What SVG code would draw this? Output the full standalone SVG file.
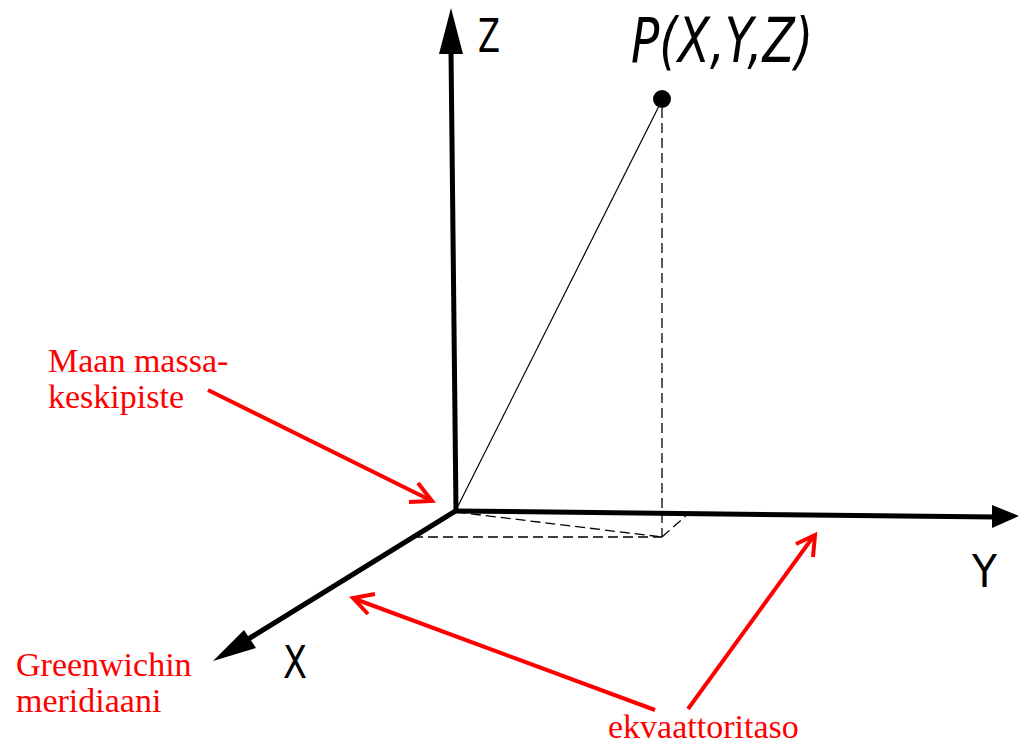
<svg xmlns="http://www.w3.org/2000/svg" width="1019" height="744" viewBox="0 0 1019 744">
<style>
.axis{stroke:#000;stroke-width:5;fill:none;stroke-linecap:butt}
.dash{stroke:#000;stroke-width:1.3;fill:none;stroke-dasharray:10 5}
.thin{stroke:#000;stroke-width:1.2;fill:none}
.red{stroke:#f00;stroke-width:4;fill:none;stroke-linecap:butt;stroke-linejoin:miter}
.lbl{font-family:"DejaVu Sans",sans-serif;fill:#000}
.rt{font-family:"Liberation Serif",serif;font-size:34px;fill:#f00}
</style>
<rect width="1019" height="744" fill="#fff"/>
<g id="connectors">
<line class="axis" x1="456" y1="511" x2="451" y2="50"/>
<polygon points="451,8 439,54 463,54" fill="#000"/>
<line class="axis" x1="455" y1="511" x2="995" y2="517"/>
<polygon points="1019,516 992,505 992,528" fill="#000"/>
<line class="axis" x1="457" y1="510" x2="245" y2="641"/>
<polygon points="213,661 244,630 256,648" fill="#000"/>
<line class="thin" x1="456" y1="510" x2="660" y2="104"/>
<line class="dash" x1="662" y1="108" x2="662" y2="537"/>
<line class="dash" x1="456" y1="512" x2="662" y2="537"/>
<line class="dash" x1="413" y1="537" x2="662" y2="537"/>
<line class="dash" x1="662" y1="537" x2="688" y2="514"/>
<polyline class="red" points="208,390 430,500"/>
<polyline class="red" points="409,502 432,501 418,483"/>
<polyline class="red" points="688,709 813,537"/>
<polyline class="red" points="796,544 815,535 813,557"/>
<polyline class="red" points="655,710 355,599"/>
<polyline class="red" points="375,594 353,598 368,614"/>
</g>
<g id="point-P">
<circle cx="662" cy="99" r="9" fill="#000"/>
<text class="lbl" x="631" y="62" font-size="62" font-style="italic" textLength="182" lengthAdjust="spacingAndGlyphs">P(X,Y,Z)</text>
</g>
<g id="label-Z"><text class="lbl" x="478" y="52" font-size="46" textLength="22" lengthAdjust="spacingAndGlyphs">Z</text></g>
<g id="label-X"><text class="lbl" x="283" y="678" font-size="45" textLength="24" lengthAdjust="spacingAndGlyphs">X</text></g>
<g id="label-Y"><text class="lbl" x="972" y="587" font-size="45" textLength="25" lengthAdjust="spacingAndGlyphs">Y</text></g>
<g id="label-massakeskipiste">
<text class="rt" x="48" y="372">Maan massa-</text>
<text class="rt" x="48" y="408">keskipiste</text>
</g>
<g id="label-greenwich">
<text class="rt" x="16" y="676">Greenwichin</text>
<text class="rt" x="16" y="712">meridiaani</text>
</g>
<g id="label-ekvaattoritaso">
<text class="rt" x="608" y="738">ekvaattoritaso</text>
</g>
</svg>
